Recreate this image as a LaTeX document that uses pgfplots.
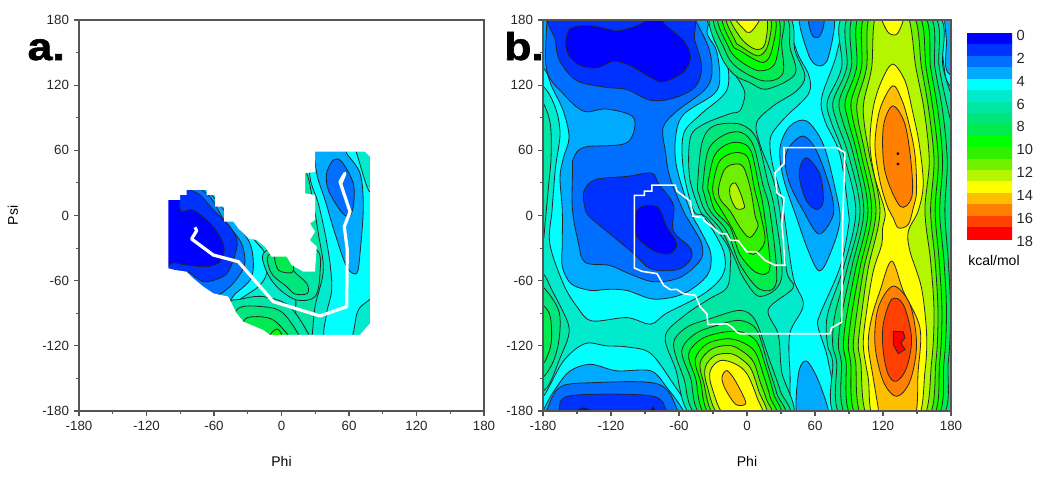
\documentclass[border=0pt]{standalone}
\usepackage{pgfplots}
\pgfplotsset{compat=1.18}
\usepackage{fontspec}
\setmainfont{Liberation Sans}
\newfontfamily\heavy[FakeBold=1.6]{Liberation Sans Bold}
\definecolor{c0}{RGB}{0,0,255}
\definecolor{c1}{RGB}{0,50,255}
\definecolor{c2}{RGB}{0,110,255}
\definecolor{c3}{RGB}{0,170,255}
\definecolor{c4}{RGB}{0,255,255}
\definecolor{c5}{RGB}{0,235,205}
\definecolor{c6}{RGB}{0,230,165}
\definecolor{c7}{RGB}{0,230,125}
\definecolor{c8}{RGB}{0,235,80}
\definecolor{c9}{RGB}{0,255,0}
\definecolor{c10}{RGB}{50,240,0}
\definecolor{c11}{RGB}{110,240,0}
\definecolor{c12}{RGB}{180,245,0}
\definecolor{c13}{RGB}{255,255,0}
\definecolor{c14}{RGB}{255,190,0}
\definecolor{c15}{RGB}{255,128,0}
\definecolor{c16}{RGB}{255,64,0}
\definecolor{c17}{RGB}{255,0,0}
\definecolor{axgray}{RGB}{85,85,85}
% one closed contour, filled with the band inside it
\newcommand\cl[2]{\addplot[fill=#1,draw=black!85,line width=0.6pt,smooth cycle,tension=0.55] coordinates {#2};}
\pgfplotsset{
  ramach/.style={
    anchor=south west, scale only axis, axis on top,
    xmin=-180, xmax=180, ymin=-180, ymax=180,
    xtick={-180,-120,-60,0,60,120,180},
    ytick={-180,-120,-60,0,60,120,180},
    xticklabels={-180,-120,-60,0,60,120,180},
    yticklabels={-180,-120,-60,0,60,120,180},
    minor tick num=1,
    tick pos=left, tick align=outside,
    major tick length=4pt, minor tick length=2.2pt,
    tick style={color=axgray,line width=0.8pt},
    axis line style={color=axgray,line width=0.9pt},
    ticklabel style={font=\fontsize{10}{12}\selectfont,text=black!85},
    xlabel={Phi},
    every axis x label/.style={at={(axis description cs:0.5,-0.13)},anchor=center,font=\fontsize{10.5}{12}\selectfont},
  }
}
\begin{document}
\begin{tikzpicture}
\path[use as bounding box] (0,0) rectangle (787.5pt,360pt);

% panel a
\begin{axis}[ramach, at={(59.25pt,51.75pt)}, width=303.75pt, height=293.25pt,
  ylabel={Psi},
  every axis y label/.style={at={(axis description cs:-0.163,0.5)},anchor=center,rotate=90,font=\fontsize{10.5}{12}\selectfont}]
\addplot[fill=c5,draw=none] coordinates {(-180,-180)(180,-180)(180,180)(-180,180)} -- cycle;
\cl{c4}{(-57.6,38.8)(-28,-16.4)(-14.7,-34.8)(-13.2,-53.3)(-20.6,-65.5)(-36.9,-77.2)(-45.8,-87)(-81.3,-93.2)(-105,-74.7)(-105,54.2)}
\cl{c4}{(28.3,63.4)(25.3,35.7)(32.7,11.2)(38.7,-16.4)(43.1,-44)(44.6,-68.6)(40.1,-90.1)(38.7,-114.6)(60.9,-114.6)(68.3,-87)(84.6,-68.6)(90.5,-22.6)(84.6,20.4)(77.2,23.5)(66.8,57.2)(63.8,63.4)}
\cl{c3}{(-72.5,29.6)(-51.1,5)(-29.5,-22.6)(-25,-44)(-28,-59.4)(-41.3,-72.3)(-50.2,-80.9)(-81.3,-80.9)(-105,-65.5)(-105,45)}
\cl{c3}{(31.3,63.4)(31.3,38.8)(38.7,14.3)(47.5,-16.4)(57.9,-47.1)(66.8,-53.3)(69.8,-34.8)(72.7,8.1)(69.8,38.8)(57.9,57.2)(56.4,63.4)}
\cl{c2}{(-87.3,32.7)(-65,18.9)(-51.1,-4.2)(-36.3,-24.1)(-32.5,-41)(-35.4,-51.7)(-45.8,-65.5)(-60.6,-74.7)(-78.4,-68.6)(-105,-62.5)(-105,38.8)}
\cl{c2}{(40.1,38.8)(46.1,51.1)(53.5,49.5)(63.8,29.6)(63.8,8.1)(59.4,-1.1)(52,5)(41.6,23.5)}
\cl{c1}{(-96.2,29.6)(-87.3,26.5)(-72.5,18.9)(-60.6,5)(-45.8,-10.3)(-39.3,-25.6)(-45.8,-48.7)(-53.2,-56.9)(-69.5,-60.9)(-84.3,-51.7)(-105,-53.3)(-105,29.6)}
\cl{c0}{(-105,18.9)(-91.7,18.9)(-89.6,4.1)(-78.4,5)(-60.6,-10.3)(-51.1,-28.7)(-54.7,-42.5)(-66.5,-47.1)(-84.3,-45.6)(-96.2,-43.4)(-105,-44)}
\cl{c6}{(13.5,41.9)(22.4,38.8)(28.3,11.2)(32.7,-16.4)(37.2,-50.2)(29.8,-84)(25.3,-120.8)(13.5,-120.8)(13.5,-22.6)}
\cl{c6}{(-16.2,-34.8)(-13.2,-51.7)(-2.8,-67)(13.5,-77.8)(29.8,-74.7)(34.2,-53.3)(31.3,-31.8)(1.6,-28.7)}
\cl{c6}{(-48.8,-120.8)(-47.3,-82.4)(-36.9,-77.2)(-16.2,-74.7)(7.5,-84)(26.8,-114.6)(25.3,-120.8)}
\cl{c7}{(-11.7,-36.4)(-8.8,-53.3)(4.6,-65.5)(12,-72.3)(23,-71.7)(22.4,-62.5)(10.5,-50.2)(7.5,-34.8)}
\cl{c7}{(-42.8,-120.8)(-39.9,-87)(-16.2,-84)(1.6,-90)(17.9,-114.6)(16.4,-120.8)}
\cl{c8}{(-5.8,-36.4)(-2.8,-50.2)(9,-52.6)(10.5,-45.6)(4.6,-36.4)}
\cl{c8}{(-36.9,-120.8)(-33.9,-97.8)(-25,-93.2)(-7.3,-96.2)(9,-114.6)(7.5,-120.8)}
\cl{c9}{(-10.2,-114.6)(-8.8,-107.9)(-2.8,-104.8)(1,-114.6)}
% everything outside the sampled region is white
\addplot[fill=white,draw=none,even odd rule] coordinates {(-182,14.3)(-182,182)(182,182)(182,-182)(-182,-182)(-182,14.3)
 (-100.6,14.3)(-90.2,14.3)(-90.2,18.9)(-84.3,18.9)(-84.3,23.5)(-66.5,23.5)(-66.5,18.9)(-59.1,18.9)(-59.1,8.1)(-51.1,8.1)(-51.1,-5.7)(-42.8,-5.7)(-38.4,-11.8)(-33.9,-16.4)(-29.5,-21)(-22.1,-22.6)(-14.7,-28.7)(-8.8,-37.9)(4.6,-37.9)(9,-45.6)(19.4,-51.7)(29.8,-51.7)(31.3,-28.7)(25.3,-22.6)(29.8,-14.9)(25.3,-7.2)(29.8,-4.2)(29.8,18.9)(20.9,20.4)(20.9,38.8)(29.8,40.3)(29.8,58.8)(74.2,58.8)(78.7,54.2)(78.7,-99.3)(69.8,-110)(-10.2,-110)(-16.2,-105.4)(-33.9,-97.8)(-39.9,-90.1)(-47.3,-74.7)(-60.6,-71.7)(-69.5,-65.5)(-78.4,-57.9)(-84.3,-51.7)(-94.7,-50.2)(-100.6,-48.7)(-100.6,14.3)(-182,14.3)} -- cycle;
\addplot[white,line width=2.4pt,line join=round] coordinates {(-76.9,-10.9)(-75.4,-14)(-79.9,-21.6)(-60.6,-36.4)(-38.4,-42.5)(-7.3,-79.3)(34.2,-92.5)(57.9,-84)(58.5,-31.8)(55.8,-10.3)(60.9,3.5)(52,31.1)(56.4,38.8)(53,30)};
\end{axis}

% panel b
\begin{axis}[ramach, at={(407.25pt,51.75pt)}, width=306pt, height=293.25pt]
\addplot[fill=c5,draw=none] coordinates {(-180,-180)(180,-180)(180,180)(-180,180)} -- cycle;
% low side: bands below 5
\cl{c4}{(-40,200)(-29.5,162.5)(-18,142)(-18,115)(-41,93)(-56,75)(-56,41)(-47,4)(-38,-1)(-21,-32)(-21,-54)(-38,-72)(-71,-90)(-85,-100)(-106,-94)(-137,-97)(-150,-84)(-162,-63)(-174,-26)(-172,5)(-169,44)(-165,75)(-169,99)(-180,119)(-200,125)(-200,200)}
\cl{c4}{(-190,-167)(-180,-167)(-162,-134)(-143,-118)(-124,-120)(-106,-121)(-85,-127)(-65,-155)(-50,-180)(-45,-200)(-190,-200)}
\cl{c4}{(37.9,185.5)(43.8,151.7)(54.7,128.6)(54.1,111.7)(33.5,90.1)(21.8,74.7)(20.3,62.4)(23.2,44)(30.6,16.3)(33.5,-5.3)(40.9,-57.6)(49.7,-82.2)(37.9,-108.3)(37.9,-143.7)(42.3,-188.3)(77.6,-188.3)(71.7,-134.2)(62.9,-103.4)(64.4,-91.1)(82,-48)(89.4,-11.1)(89.4,4)(82,56.3)(68.8,87)(65.9,108.6)(79,148.6)(82,185.5)}
\cl{c4}{(200,190)(172,190)(174,136)(180,118)(200,100)}
\cl{c4}{(200,-190)(179,-190)(180,-160)(200,-150)}
\cl{c3}{(-46,200)(-35,167)(-27,152)(-24,127)(-29,112)(-56,93)(-63,72)(-62,44)(-50,4)(-41,-14)(-32,-35)(-35,-55)(-56,-72)(-82,-77)(-106,-69)(-123,-68)(-138,-69)(-155,-63)(-163,-47)(-163,-26)(-163,5)(-165,35)(-162,53)(-157,72)(-162,96)(-172,118)(-180,136)(-200,140)(-200,200)}
\cl{c3}{(-185,-200)(-179,-178)(-168,-158)(-156,-143)(-138,-137)(-115,-143)(-85,-143)(-71,-158)(-56,-180)(-50,-200)}
\cl{c3}{(29.1,62.4)(37.9,82.4)(52.6,87)(67.3,65.5)(77.6,25.5)(82,-5)(73.2,-35.7)(63.8,-51.1)(54.1,-32.6)(43.8,-2.2)(32,34.7)}
\cl{c3}{(46.7,185.5)(54.1,148.6)(62.9,137.8)(71.7,145.5)(76.1,185.5)}
\cl{c3}{(45.3,-188)(45.3,-146.5)(52.6,-134)(64.4,-155.7)(71.7,-188)}
\cl{c3}{(200,190)(176,190)(176,160)(177,132)(200,128)}
\cl{c2}{(-50,190)(-34,155)(-31,130)(-38,115)(-62,96)(-74,81)(-72,59)(-68,35)(-56,4)(-50,-7)(-40,-26)(-41,-41)(-59,-57)(-82,-61)(-103,-54)(-121,-46)(-143,-43)(-149,-24)(-154,5)(-154,38)(-153,53)(-143,63)(-106,67)(-100,90)(-124,98)(-144,96)(-162,112)(-177,135)(-176,190)(-176,200)(-50,200)}
\cl{c2}{(-180,-200)(-176,-178)(-165,-158)(-138,-154)(-79,-155)(-62,-178)(-60,-200)}
\cl{c2}{(33.5,50.1)(37.9,64)(49.7,73.2)(61.4,59.4)(73.2,25.5)(76.1,1)(63.5,-17)(49.7,4.3)(37.9,28.6)}
\cl{c2}{(54.1,185.5)(57,167)(62.9,164)(67.3,173.2)(67.3,185.5)}
\cl{c1}{(-169,190)(-169,161)(-165,142)(-150,124)(-124,118)(-106,116)(-85,106)(-65,108)(-46,118)(-40,136)(-46,161)(-57,190)}
\cl{c1}{(-144,22)(-134,33)(-106,36)(-84,39)(-78,29)(-65,10)(-65,-14)(-50,-30)(-50,-41)(-62,-50)(-85,-49)(-100,-35)(-129,-10)(-140,0)(-143,7)}
\cl{c1}{(-168,-192)(-166,-180)(-156,-166)(-85,-166)(-71,-180)(-69,-192)}
\cl{c1}{(46.7,44)(52.6,53.2)(64.4,37.8)(67.3,13.2)(61.4,5.5)(52.6,13.2)(46.7,31.7)}
\cl{c0}{(-160,159)(-156,172)(-141,175)(-124,172)(-113,170)(-91,178)(-90,190)(-75,190)(-74,178)(-56,161)(-50,146)(-56,132)(-74,123)(-85,127)(-103,138)(-118,142)(-132,136)(-147,138)(-157,147)}
\cl{c0}{(-97,5)(-90,9)(-78,7)(-71,-10)(-62,-26)(-68,-35)(-81,-33)(-97,-20)(-98,-4)}
\cl{c0}{(-156,-186)(-144,-177)(-131,-186)}
\cl{c0}{(-86,-184)(-83,-176)(-80,-184)}
% high side: bands from 6 up
\cl{c6}{(-33.9,185.5)(-17.7,151.7)(-10.4,130.1)(-5.9,122.4)(-1.8,111.7)(-6.2,96.3)(-14.8,93.8)(-38.3,84)(-50,71.7)(-50.6,34.8)(-41.2,4)(-33.9,-3.7)(-16.2,-29.6)(-14.8,-48)(-17.7,-66.5)(-33.9,-77.2)(-55.9,-92.6)(-72.1,-111.1)(-63.3,-140.3)(-44.2,-188.3)(37.9,-188.3)(30.5,-143.4)(27.6,-109.6)(18.8,-86.5)(40.8,-66.5)(35,-51.4)(29,4)(22.6,34.8)(11.4,65.5)(8.5,85.5)(23.2,100.9)(43.8,114.8)(51.1,128.6)(42.3,151.7)(33.8,185.5)}
\cl{c6}{(87,185.5)(83.5,136.3)(71,105.5)(74,87)(85,56.3)(96,4)(85,-48.3)(71,-91.4)(71,-119)(75.6,-134.5)(82,-188.3)(176.7,-188.3)(188,-134.5)(194,-88.3)(200,-42)(200,4)(200,50)(185,96.3)(173,136.3)(167,185.5)}
\cl{c6}{(-185.3,104)(-180,104)(-173.5,84)(-172.9,53.2)(-175,28.6)(-178,-5.3)(-180,-23.7)(-185.3,-23.7)}
\cl{c6}{(-190,-53.5)(-180,-53.5)(-172,-68.9)(-158.8,-96.6)(-157.4,-110.5)(-164.7,-130.5)(-176.5,-158.2)(-190,-158)}
\cl{c7}{(-30.6,185.5)(-23.6,148.6)(-11.8,130.1)(2.6,122.4)(17.3,116.3)(42.3,130.1)(37.9,154.8)(31.1,185.5)}
\cl{c7}{(-43.6,28.6)(-39.7,67)(-29.5,82.4)(-5.9,84)(8.8,70.1)(18.2,31.7)(24.6,4)(30.5,-57.6)(11.4,-74.5)(-3,-57.6)(-10.4,-40.6)(-22.1,-14.5)(-36.8,4)(-42.4,19.4)}
\cl{c7}{(-40.6,-185.8)(-56,-149)(-64.8,-118)(-53,-102.8)(-32.4,-95)(-6.2,-87.4)(7.3,-96.6)(19,-130.5)(29.3,-161.2)(34.6,-185.8)}
\cl{c7}{(92,185.5)(88,136.3)(76,105.5)(79,87)(89.4,56.3)(99.7,4)(88.5,-48.3)(77.6,-91.4)(75.6,-119)(79,-134.5)(86.4,-188.3)(173,-188.3)(182,-134.5)(188,-88.3)(188,-42)(188,4)(188,50)(177.6,96.3)(169.6,136.3)(163,185.5)}
\cl{c7}{(-190,-65.8)(-180,-65.8)(-166.2,-87.4)(-165.6,-112)(-170.6,-133.5)(-180,-149)(-190,-149)}
\cl{c8}{(-27.4,185.5)(-19.2,151.7)(-8.9,136.3)(14.3,124)(31.4,130.1)(30.5,157.8)(28.5,185.5)}
\cl{c8}{(-38.9,28.6)(-33.9,60.9)(-19.2,74.7)(-4.5,76.3)(5.8,64)(14,28.6)(20.2,4)(26.1,-60.3)(11.4,-68)(-6.2,-45)(-17.7,-14.5)(-32.4,4)(-37.7,19.4)}
\cl{c8}{(-37.2,-185.8)(-50,-149)(-57.5,-124.3)(-45.7,-108.9)(-26.5,-101.2)(-6.2,-96.6)(8.8,-105.8)(19,-139.7)(26.4,-164.3)(30.8,-185.8)}
\cl{c8}{(96,185.5)(92,136.3)(81.4,105.5)(84.4,87)(93.8,56.3)(103,4)(92.3,-48.3)(83.5,-91.4)(80.6,-119)(83.2,-134.5)(90.8,-188.3)(169,-188.3)(177.6,-134.5)(179.6,-88.3)(177.6,-42)(174.6,4)(176.7,50)(172.6,96.3)(165.8,136.3)(159.3,185.5)}
\cl{c8}{(-190,-82.8)(-180,-82.8)(-173.5,-93.5)(-172.9,-118.2)(-180,-136.6)(-190,-136.6)}
\cl{c9}{(-24.2,185.5)(-16.2,154.8)(-6.2,142.4)(11.4,133.2)(25.5,142.4)(25.5,185.5)}
\cl{c9}{(-34.5,28.6)(-28.9,54.8)(-17.7,65.5)(-5.9,67)(3.5,59.4)(10.2,28.6)(14.9,4)(20.2,-48)(8.5,-52.6)(-6.2,-36)(-14.8,-11.1)(-28,4)(-33,19.4)}
\cl{c9}{(-33.5,-185.8)(-45.6,-149)(-51.5,-127.4)(-39.8,-113.5)(-20.6,-107.4)(-4.5,-107.4)(8.8,-116.6)(17.6,-142.8)(23.5,-164.3)(27.3,-185.8)}
\cl{c9}{(100.5,185.5)(96.7,136.3)(86.7,105.5)(89.4,87)(97.3,56.3)(106.7,4)(96,-48.3)(88,-91.4)(85,-119)(87.3,-134.5)(95,-188.3)(165,-188.3)(173.8,-134.5)(176,-88.3)(173.8,-42)(170,4)(172.6,50)(168.5,96.3)(162,136.3)(155,185.5)}
\cl{c10}{(-20.6,185.5)(-13.3,157.8)(-6.2,151.7)(14.3,140.9)(22.6,154.8)(22.6,185.5)}
\cl{c10}{(-30,28.6)(-25,48.6)(-16.2,56.3)(-5.9,57.8)(1.4,51.7)(6.4,25.5)(11.4,4)(15.8,-23.7)(5.5,-35.7)(-5.9,-26.5)(-13.3,-11.4)(-22.1,4)(-28.9,16.3)}
\cl{c10}{(-30,-185.8)(-41.2,-152)(-45.6,-132)(-35.3,-118.2)(-17.7,-113.5)(-4.5,-116.6)(7.3,-125.8)(15.2,-149)(20.5,-167.4)(23.8,-185.8)}
\cl{c10}{(105,185.5)(101,136.3)(92,105.5)(93.8,87)(100.8,56.3)(110,4)(99.7,-48.3)(92.3,-91.4)(89.4,-119)(91.4,-134.5)(99,-188.3)(161.4,-188.3)(170,-134.5)(172,-88.3)(169.6,-42)(166,4)(168.8,50)(164.3,96.3)(158,136.3)(150.5,185.5)}
\cl{c11}{(-17.7,185.5)(-10.4,160.9)(-6.2,156.3)(9.9,147)(18.8,157.8)(18.8,185.5)}
\cl{c11}{(-25,25.5)(-20.6,40.9)(-14.8,46.4)(-5.9,47.1)(-1.5,40.9)(3.5,22.4)(7.3,-1.1)(9.9,-9.5)(2.6,-20.3)(-5.9,-11.4)(-14.8,4)(-23.6,14.8)}
\cl{c11}{(-26.5,-185.8)(-38.3,-153.5)(-41.2,-135)(-30.9,-122.8)(-14.8,-119.7)(-3,-125.8)(5.8,-135)(11.7,-153.5)(17,-168.9)(20.2,-185.8)}
\cl{c11}{(109.4,185.5)(105.5,136.3)(97.3,105.5)(98.2,87)(104.4,56.3)(113.8,4)(103.2,-48.3)(96.7,-91.4)(93.8,-119)(95.8,-134.5)(103.5,-188.3)(158,-188.3)(166.7,-134.5)(168.5,-88.3)(166,-42)(162,4)(165,50)(160.5,96.3)(154,136.3)(146,185.5)}
\cl{c12}{(-14.8,185.5)(-5.9,164)(7,153.2)(15.8,157.8)(15.8,185.5)}
\cl{c12}{(-14.8,27)(-10.4,30)(-5.9,20.9)(-3,11.7)(-2.4,7)(-9.5,6.4)(-14.8,17.8)}
\cl{c12}{(-22.7,-185.8)(-35.3,-156.6)(-36.8,-139.7)(-28,-128.9)(-13.3,-127.4)(-1.5,-135)(4.3,-142.8)(10.2,-161.2)(16.7,-185.8)}
\cl{c12}{(114.4,185.5)(110,136.3)(103.2,105.5)(103.2,87)(107.9,56.3)(117.3,4)(107,-48.3)(101,-91.4)(98.2,-119)(100.3,-134.5)(108,-188.3)(154,-188.3)(162.9,-134.5)(165,-88.3)(162,-42)(157,4)(160.8,50)(156.4,96.3)(149,136.3)(140.8,185.5)}
\cl{c13}{(-11.8,185.5)(-3,171.7)(2.6,168.6)(9.9,177.8)(11.4,185.5)}
\cl{c13}{(-18.2,-185.8)(-31,-158.2)(-32.4,-142.8)(-23.6,-133.5)(-10.4,-136.6)(0,-145.8)(8.8,-167.4)(13.2,-185.8)}
\cl{c13}{(118.8,185.5)(122.6,171.7)(127.6,166.4)(133.5,168.6)(137.9,185.5)}
\cl{c13}{(128.5,139.4)(118.8,124)(111.4,99.4)(108.5,65.5)(112.9,34.7)(121.7,4)(119.7,-11.4)(118.8,-26.8)(111.4,-51.4)(105.5,-88.3)(102.6,-119)(107,-149.9)(112.9,-188.3)(149.6,-188.3)(157,-143.7)(158.5,-109.9)(154,-66.8)(143.8,-33)(142.3,-14.5)(151,4)(155.5,29)(152,65.5)(146,96.3)(139.4,124)}
\cl{c14}{(-22.1,-149)(-17.7,-142.8)(-10.4,-152)(-1.5,-170.5)(-3,-174.5)(-10.4,-173.5)(-19.2,-159.7)}
\cl{c14}{(128.5,119.4)(117.3,97.8)(112.9,65.5)(116.7,34.7)(123.2,10.1)(129,-2.2)(133.5,-11.4)(142.3,-8.3)(146.7,7)(149.6,22.4)(148.2,56.3)(142.3,87)(136.4,107)}
\cl{c14}{(127.6,-41.9)(117.3,-69.6)(110,-94.2)(107,-118.8)(111.4,-149.6)(115.8,-177.3)(117.3,-188.3)(146.7,-188.3)(151,-143.4)(152.6,-103.4)(137.9,-69.6)}
\cl{c15}{(128.5,100.9)(120.2,80.9)(121.7,40.9)(135,8.6)(145.2,16.3)(145.2,44)(139.4,84)}
\cl{c15}{(129,-65)(115.8,-85)(112.9,-118.8)(120.2,-152.6)(132,-166.5)(143.8,-152.6)(149.6,-118.8)(143.8,-81.9)}
\cl{c16}{(127.6,-77.3)(120.2,-100.3)(120.2,-125)(124.7,-146.5)(132,-152.6)(140.8,-140.3)(145.2,-112.6)(137.9,-81.9)}
\addplot[fill=c17,draw=black!85,line width=0.6pt] coordinates {(129,-106.5)(137.9,-107.1)(139.4,-112.6)(135.8,-117.3)(139.4,-123.4)(133.5,-127.4)(129,-118.8)} -- cycle;
\addplot[only marks,mark=*,mark size=0.9pt,color=black!80!red] coordinates {(133.2,56.9)(133.2,47.4)};
% sampled region
\addplot[white,line width=1.2pt,line join=miter] coordinates {(-99.4,-2.2)(-99.4,18.5)(-90.6,18.5)(-90.6,22.5)(-83.9,22.5)(-83.9,28)(-63.3,28)(-61.8,22.5)(-50,13.2)(-47.7,-0.6)(-38.3,-2.2)(-38.3,-4.3)(-23.6,-16.6)(-18,-17)(-14.8,-22.8)(-8,-23)(-0.1,-33.5)(8.5,-33.5)(15.9,-41.2)(24.7,-45.8)(33.5,-45.8)(32,-22.8)(30.6,-7.4)(32,4.9)(32.6,16.3)(26.2,21)(24.7,39.4)(32.6,47.7)(32.6,62.5)(79.1,62.5)(86.4,57.8)(84.4,-5.2)(83.5,-98.2)(74.7,-103.4)(73.2,-108.9)(-6.2,-108.9)(-8.9,-107.4)(-13,-103)(-17.7,-99.7)(-34.5,-100.3)(-35.4,-90.5)(-41.2,-84.3)(-45.6,-73.5)(-56,-72)(-62,-68)(-67.7,-68.3)(-73.5,-64.3)(-79.4,-53.5)(-92.7,-51.4)(-99.4,-48.3)(-99.4,-2.2)};
\end{axis}

% colour key
\begin{axis}[anchor=south west, at={(725.25pt,178.3pt)}, scale only axis, width=33.75pt, height=156.75pt,
  xmin=0, xmax=1, ymin=-0.2, ymax=18.1, y dir=reverse,
  xtick=\empty, ytick={0,2,4,6,8,10,12,14,16,18}, yticklabels={0,2,4,6,8,10,12,14,16,18},
  ytick pos=right, yticklabel pos=right,
  tick style={draw=none}, axis line style={draw=none},
  ticklabel style={font=\fontsize{11}{13}\selectfont,text=black!85}]
\addplot[fill=c0,draw=c0] coordinates {(0,-0.2)(1,-0.2)(1,0.8)(0,0.8)} -- cycle;
\addplot[fill=c1,draw=c1] coordinates {(0,0.8)(1,0.8)(1,1.8)(0,1.8)} -- cycle;
\addplot[fill=c2,draw=c2] coordinates {(0,1.8)(1,1.8)(1,2.8)(0,2.8)} -- cycle;
\addplot[fill=c3,draw=c3] coordinates {(0,2.8)(1,2.8)(1,3.8)(0,3.8)} -- cycle;
\addplot[fill=c4,draw=c4] coordinates {(0,3.8)(1,3.8)(1,4.8)(0,4.8)} -- cycle;
\addplot[fill=c5,draw=c5] coordinates {(0,4.8)(1,4.8)(1,5.8)(0,5.8)} -- cycle;
\addplot[fill=c6,draw=c6] coordinates {(0,5.8)(1,5.8)(1,6.8)(0,6.8)} -- cycle;
\addplot[fill=c7,draw=c7] coordinates {(0,6.8)(1,6.8)(1,7.8)(0,7.8)} -- cycle;
\addplot[fill=c8,draw=c8] coordinates {(0,7.8)(1,7.8)(1,8.8)(0,8.8)} -- cycle;
\addplot[fill=c9,draw=c9] coordinates {(0,8.8)(1,8.8)(1,9.8)(0,9.8)} -- cycle;
\addplot[fill=c10,draw=c10] coordinates {(0,9.8)(1,9.8)(1,10.8)(0,10.8)} -- cycle;
\addplot[fill=c11,draw=c11] coordinates {(0,10.8)(1,10.8)(1,11.8)(0,11.8)} -- cycle;
\addplot[fill=c12,draw=c12] coordinates {(0,11.8)(1,11.8)(1,12.8)(0,12.8)} -- cycle;
\addplot[fill=c13,draw=c13] coordinates {(0,12.8)(1,12.8)(1,13.8)(0,13.8)} -- cycle;
\addplot[fill=c14,draw=c14] coordinates {(0,13.8)(1,13.8)(1,14.8)(0,14.8)} -- cycle;
\addplot[fill=c15,draw=c15] coordinates {(0,14.8)(1,14.8)(1,15.8)(0,15.8)} -- cycle;
\addplot[fill=c16,draw=c16] coordinates {(0,15.8)(1,15.8)(1,16.8)(0,16.8)} -- cycle;
\addplot[fill=c17,draw=c17] coordinates {(0,16.8)(1,16.8)(1,17.8)(0,17.8)} -- cycle;
\end{axis}

\node[anchor=base west,inner sep=0pt,font=\fontsize{10.5}{12}\selectfont] at (726pt,161pt) {kcal/mol};
\node[anchor=base west,inner sep=0pt,xscale=1.15,font=\fontsize{29}{31}\selectfont\heavy] at (20.5pt,315pt) {a.};
\node[anchor=base west,inner sep=0pt,xscale=1.15,font=\fontsize{29}{31}\selectfont\heavy] at (378pt,315pt) {b.};
\end{tikzpicture}
\end{document}
